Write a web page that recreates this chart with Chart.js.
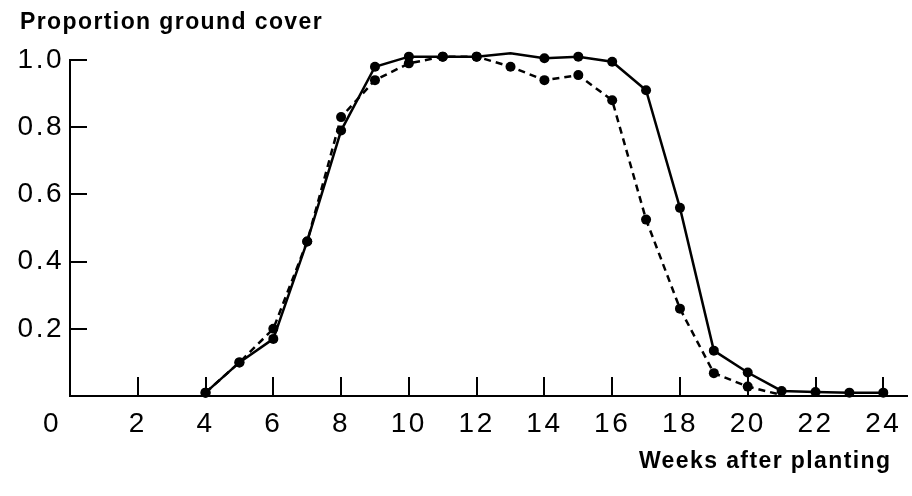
<!DOCTYPE html>
<html>
<head>
<meta charset="utf-8">
<script src="https://cdn.jsdelivr.net/npm/chart.js@4"></script>
<style>
  body { margin: 0; background: #fff; }
</style>
</head>
<body>
<canvas id="myChart" width="912" height="496"></canvas>
<script>
// weeks after planting
const weeks = [4, 5, 6, 7, 8, 9, 10, 11, 12, 13, 14, 15, 16, 17, 18, 19, 20, 21, 22, 23, 24];
// solid line
const solidCover = [0.01, 0.10, 0.17, 0.46, 0.79, 0.98, 1.01, 1.01, 1.01, 1.02, 1.005, 1.01, 0.995, 0.91, 0.56, 0.135, 0.07, 0.015, 0.012, 0.01, 0.01];
// dashed line (runs out to the axis just after week 20)
const dashedCover = [0.01, 0.10, 0.20, 0.46, 0.83, 0.94, 0.99, 1.01, 1.01, 0.98, 0.94, 0.955, 0.88, 0.525, 0.26, 0.068, 0.028, 0.003];

const yTicks = [0.2, 0.4, 0.6, 0.8, 1.0];

const toPoints = (vals) => vals.map((v, i) => ({ x: weeks[i], y: v }));

// text in the scan is widely spaced, canvas letterSpacing fakes that
const spacingPlugin = {
    id: 'spacing',
    afterLayout(chart) {
        // y labels are wider than the box, don't let them get clipped
        chart.scales.y.left = 0;
    },
    beforeDraw(chart) { chart.ctx.letterSpacing = '1.4px'; },
    afterDatasetsDraw(chart) { chart.ctx.letterSpacing = '2.5px'; },
    afterDraw(chart) { chart.ctx.letterSpacing = '0px'; }
};

Chart.defaults.color = '#000';
Chart.defaults.font.family = "'Liberation Sans', Arial, sans-serif";

const ctx = document.getElementById('myChart').getContext('2d');

new Chart(ctx, {
    type: 'line',
    data: {
        datasets: [
            {
                label: 'solid',
                data: toPoints(solidCover),
                borderColor: '#000',
                backgroundColor: '#000',
                borderWidth: 2.5,
                pointRadius: 5,
                pointHoverRadius: 5,
                pointBorderWidth: 0,
                tension: 0,
                clip: false
            },
            {
                label: 'dashed',
                data: toPoints(dashedCover),
                borderColor: '#000',
                backgroundColor: '#000',
                borderWidth: 2.5,
                borderDash: [7, 5],
                pointRadius: (c) => c.dataIndex === dashedCover.length - 1 ? 0 : 5,
                pointBorderWidth: 0,
                tension: 0,
                clip: false
            }
        ]
    },
    options: {
        responsive: false,
        animation: false,
        layout: { padding: { left: 20, right: 0, top: 0, bottom: 0 } },
        plugins: {
            legend: { display: false },
            tooltip: { enabled: false },
            title: {
                display: true,
                text: 'Proportion ground cover',
                align: 'start',
                font: { size: 23, weight: 'bold' },
                padding: { top: 9, bottom: 23.4 }
            }
        },
        scales: {
            x: {
                type: 'linear',
                min: 0,
                max: 24.7,
                afterFit: (s) => {
                    s.height = 100;
                    s.paddingLeft = 0;
                    s.paddingRight = 0;
                },
                border: { display: true, color: '#000', width: 2 },
                grid: {
                    drawOnChartArea: false,
                    color: '#000',
                    lineWidth: 2,
                    tickLength: -19
                },
                ticks: {
                    stepSize: 2,
                    includeBounds: false,
                    padding: 30,
                    maxRotation: 0,
                    autoSkip: false,
                    z: 1,
                    font: { size: 28 },
                    callback: (v) => v === 0 ? '0\u2007\u2007' : String(v)
                },
                title: {
                    display: true,
                    text: 'Weeks after planting  ',
                    align: 'end',
                    font: { size: 23, weight: 'bold' },
                    padding: { top: 0, bottom: 21 }
                }
            },
            y: {
                min: 0,
                max: 1.0,
                afterFit: (s) => {
                    s.width = 50;
                    s.paddingTop = 0;
                    s.paddingBottom = 0;
                },
                afterBuildTicks: (s) => { s.ticks = [0].concat(yTicks).map(v => ({ value: v })); },
                border: { display: true, color: '#000', width: 2 },
                grid: {
                    drawOnChartArea: false,
                    color: '#000',
                    lineWidth: 2,
                    tickLength: -17
                },
                ticks: {
                    padding: 23,
                    z: 1,
                    font: { size: 28 },
                    callback: (v) => v === 0 ? '' : v.toFixed(1)
                }
            }
        }
    },
    plugins: [spacingPlugin]
});
</script>
</body>
</html>
